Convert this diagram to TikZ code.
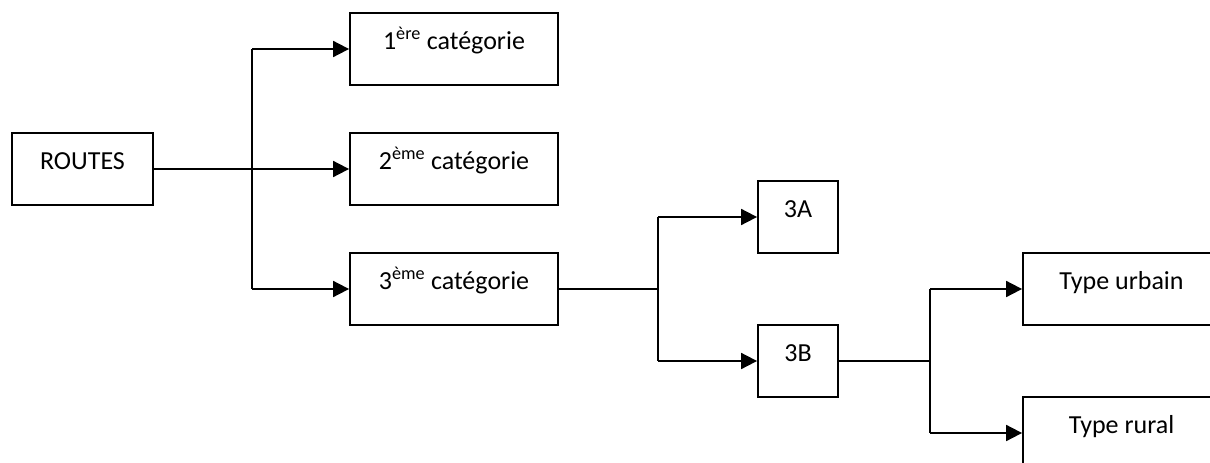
\documentclass[tikz,border=0pt]{standalone}
\usepackage{fontspec}
\setmainfont{Carlito}
\usetikzlibrary{arrows.meta}
\begin{document}
\begin{tikzpicture}[x=1pt,y=-1pt,
  box/.style={draw=black,line width=1.8pt,fill=white,inner sep=0pt,
    text height=13pt,text depth=13pt,font=\fontsize{26}{30}\selectfont,
    minimum height=72pt},
  link/.style={line width=1.8pt},
  trunk/.style={line width=2.8pt},
  arr/.style={line width=1.8pt,-{Triangle[length=16pt,width=16pt]}}]
  \useasboundingbox (0,0) rectangle (1210,463);
  \clip (0,0) rectangle (1210,463);

  % boxes
  \node[box,minimum width=141pt] (routes) at (82.5,169) {ROUTES};
  \node[box,minimum width=208pt] (c1) at (454,49) {1\textsuperscript{ère} catégorie};
  \node[box,minimum width=208pt] (c2) at (454,169) {2\textsuperscript{ème} catégorie};
  \node[box,minimum width=208pt] (c3) at (454,289) {3\textsuperscript{ème} catégorie};
  \node[box,minimum width=80pt] (a3) at (798,217) {3A};
  \node[box,minimum width=80pt] (b3) at (798,361) {3B};
  \node[box,minimum width=197pt] (tu) at (1121.5,289) {Type urbain};
  \node[box,minimum width=197pt] (tr) at (1121.5,433) {Type rural};

  % branch points
  \coordinate (j1) at (252,169);
  \coordinate (j2) at (658,289);
  \coordinate (j3) at (930,361);

  % ROUTES -> categories
  \draw[trunk] (routes.east) -- (j1);
  \draw[link] (c1.west -| j1) -- (c3.west -| j1);
  \draw[arr] (c1.west -| j1) -- (c1.west);
  \draw[arr] (j1) -- (c2.west);
  \draw[arr] (c3.west -| j1) -- (c3.west);

  % 3eme categorie -> 3A / 3B
  \draw[trunk] (c3.east) -- (j2);
  \draw[link] (a3.west -| j2) -- (b3.west -| j2);
  \draw[arr] (a3.west -| j2) -- (a3.west);
  \draw[arr] (b3.west -| j2) -- (b3.west);

  % 3B -> types
  \draw[trunk] (b3.east) -- (j3);
  \draw[link] (tu.west -| j3) -- (tr.west -| j3);
  \draw[arr] (tu.west -| j3) -- (tu.west);
  \draw[arr] (tr.west -| j3) -- (tr.west);
\end{tikzpicture}
\end{document}
